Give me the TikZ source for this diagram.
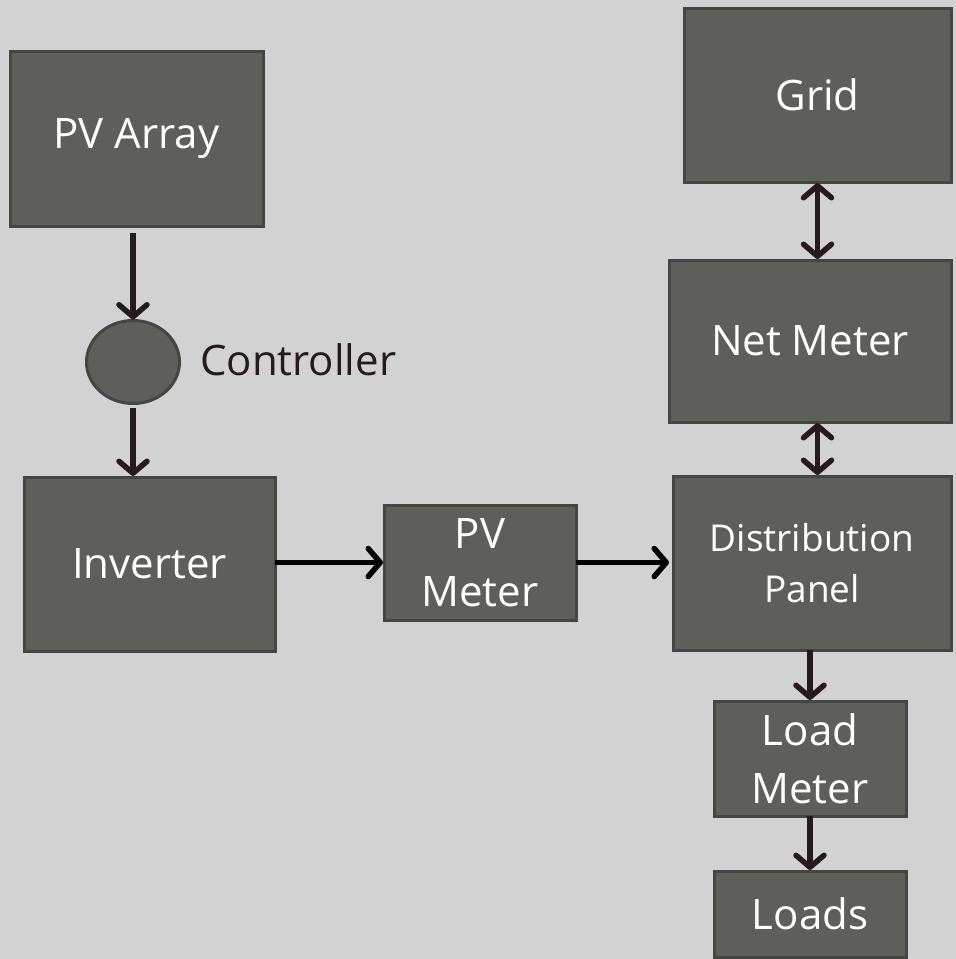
\documentclass[tikz,border=0pt]{standalone}
\usepackage{fontspec}
\setmainfont{Open Sans}
\usetikzlibrary{arrows.meta,shapes.geometric}
\definecolor{bgc}{HTML}{D2D2D2}
\definecolor{boxfill}{HTML}{5E5E5A}
\definecolor{boxline}{HTML}{454543}
\definecolor{arrc}{HTML}{251B1F}
\tikzset{
  blk/.style={rectangle, draw=boxline, fill=boxfill, line width=3pt, inner sep=0pt, outer sep=0pt,
    text=white, align=center, font=\fontsize{42}{58}\selectfont},
  oval/.style={ellipse, draw=boxline, fill=boxfill, line width=3pt, inner sep=0pt, outer sep=0pt},
  tipb/.tip={Straight Barb[length=12pt,width=28pt,line cap=round,line join=round]},
  arr/.style={draw=arrc, line width=5.5pt, -tipb},
  darr/.style={draw=arrc, line width=5.5pt, tipb-tipb},
  harr/.style={arr, draw=black},
  lbl/.style={text=arrc, font=\fontsize{42}{58}\selectfont, inner sep=0pt, anchor=base west}
}
\begin{document}
\begin{tikzpicture}[x=1pt,y=-1pt]
\fill[bgc] (0,0) rectangle (956,959);
\useasboundingbox (0,0) rectangle (956,959);
\node[blk, minimum width=253pt, minimum height=175pt] (pv) at (136.5,138.5) {PV Array};
\node[blk, minimum width=267pt, minimum height=174pt] (grid) at (817.5,95) {Grid};
\node[blk, minimum width=282pt, minimum height=162pt] (net) at (810,341) {Net Meter};
\node[oval, minimum width=93pt, minimum height=83pt] (ctrl) at (133,362) {};
\node[lbl] (ctrltext) at (200,375) {Controller};
\node[blk, minimum width=251pt, minimum height=174pt] (inv) at (149.5,564) {Inverter};
\node[blk, minimum width=192pt, minimum height=115pt] (pvm) at (480,562.5) {PV\\Meter};
\node[blk, minimum width=278pt, minimum height=174pt, font=\fontsize{37}{51}\selectfont] (dist) at (812,563) {Distribution\\Panel};
\node[blk, minimum width=192pt, minimum height=115pt] (lm) at (810,758.5) {Load\\Meter};
\node[blk, minimum width=192pt, minimum height=86pt] (loads) at (810,914) {Loads};

\draw[arr, shorten <=7pt, shorten >=1pt] (pv.south -| ctrl.north) -- (ctrl.north);
\draw[arr, shorten <=4pt, shorten >=1pt] (ctrl.south) -- (ctrl.south |- inv.north);
\draw[darr, shorten <=1pt, shorten >=1pt] (grid.south) -- (grid.south |- net.north);
\draw[darr, shorten <=1pt, shorten >=1pt] (net.south -| grid.south) -- (dist.north -| grid.south);
\draw[arr, shorten >=1pt] (dist.south -| lm.north) -- (lm.north);
\draw[arr, shorten >=1pt] (lm.south) -- (loads.north);
\draw[harr, shorten >=1pt] (inv.east |- pvm.west) -- (pvm.west);
\draw[harr, shorten >=4pt] (pvm.east) -- (pvm.east -| dist.west);
\end{tikzpicture}
\end{document}
